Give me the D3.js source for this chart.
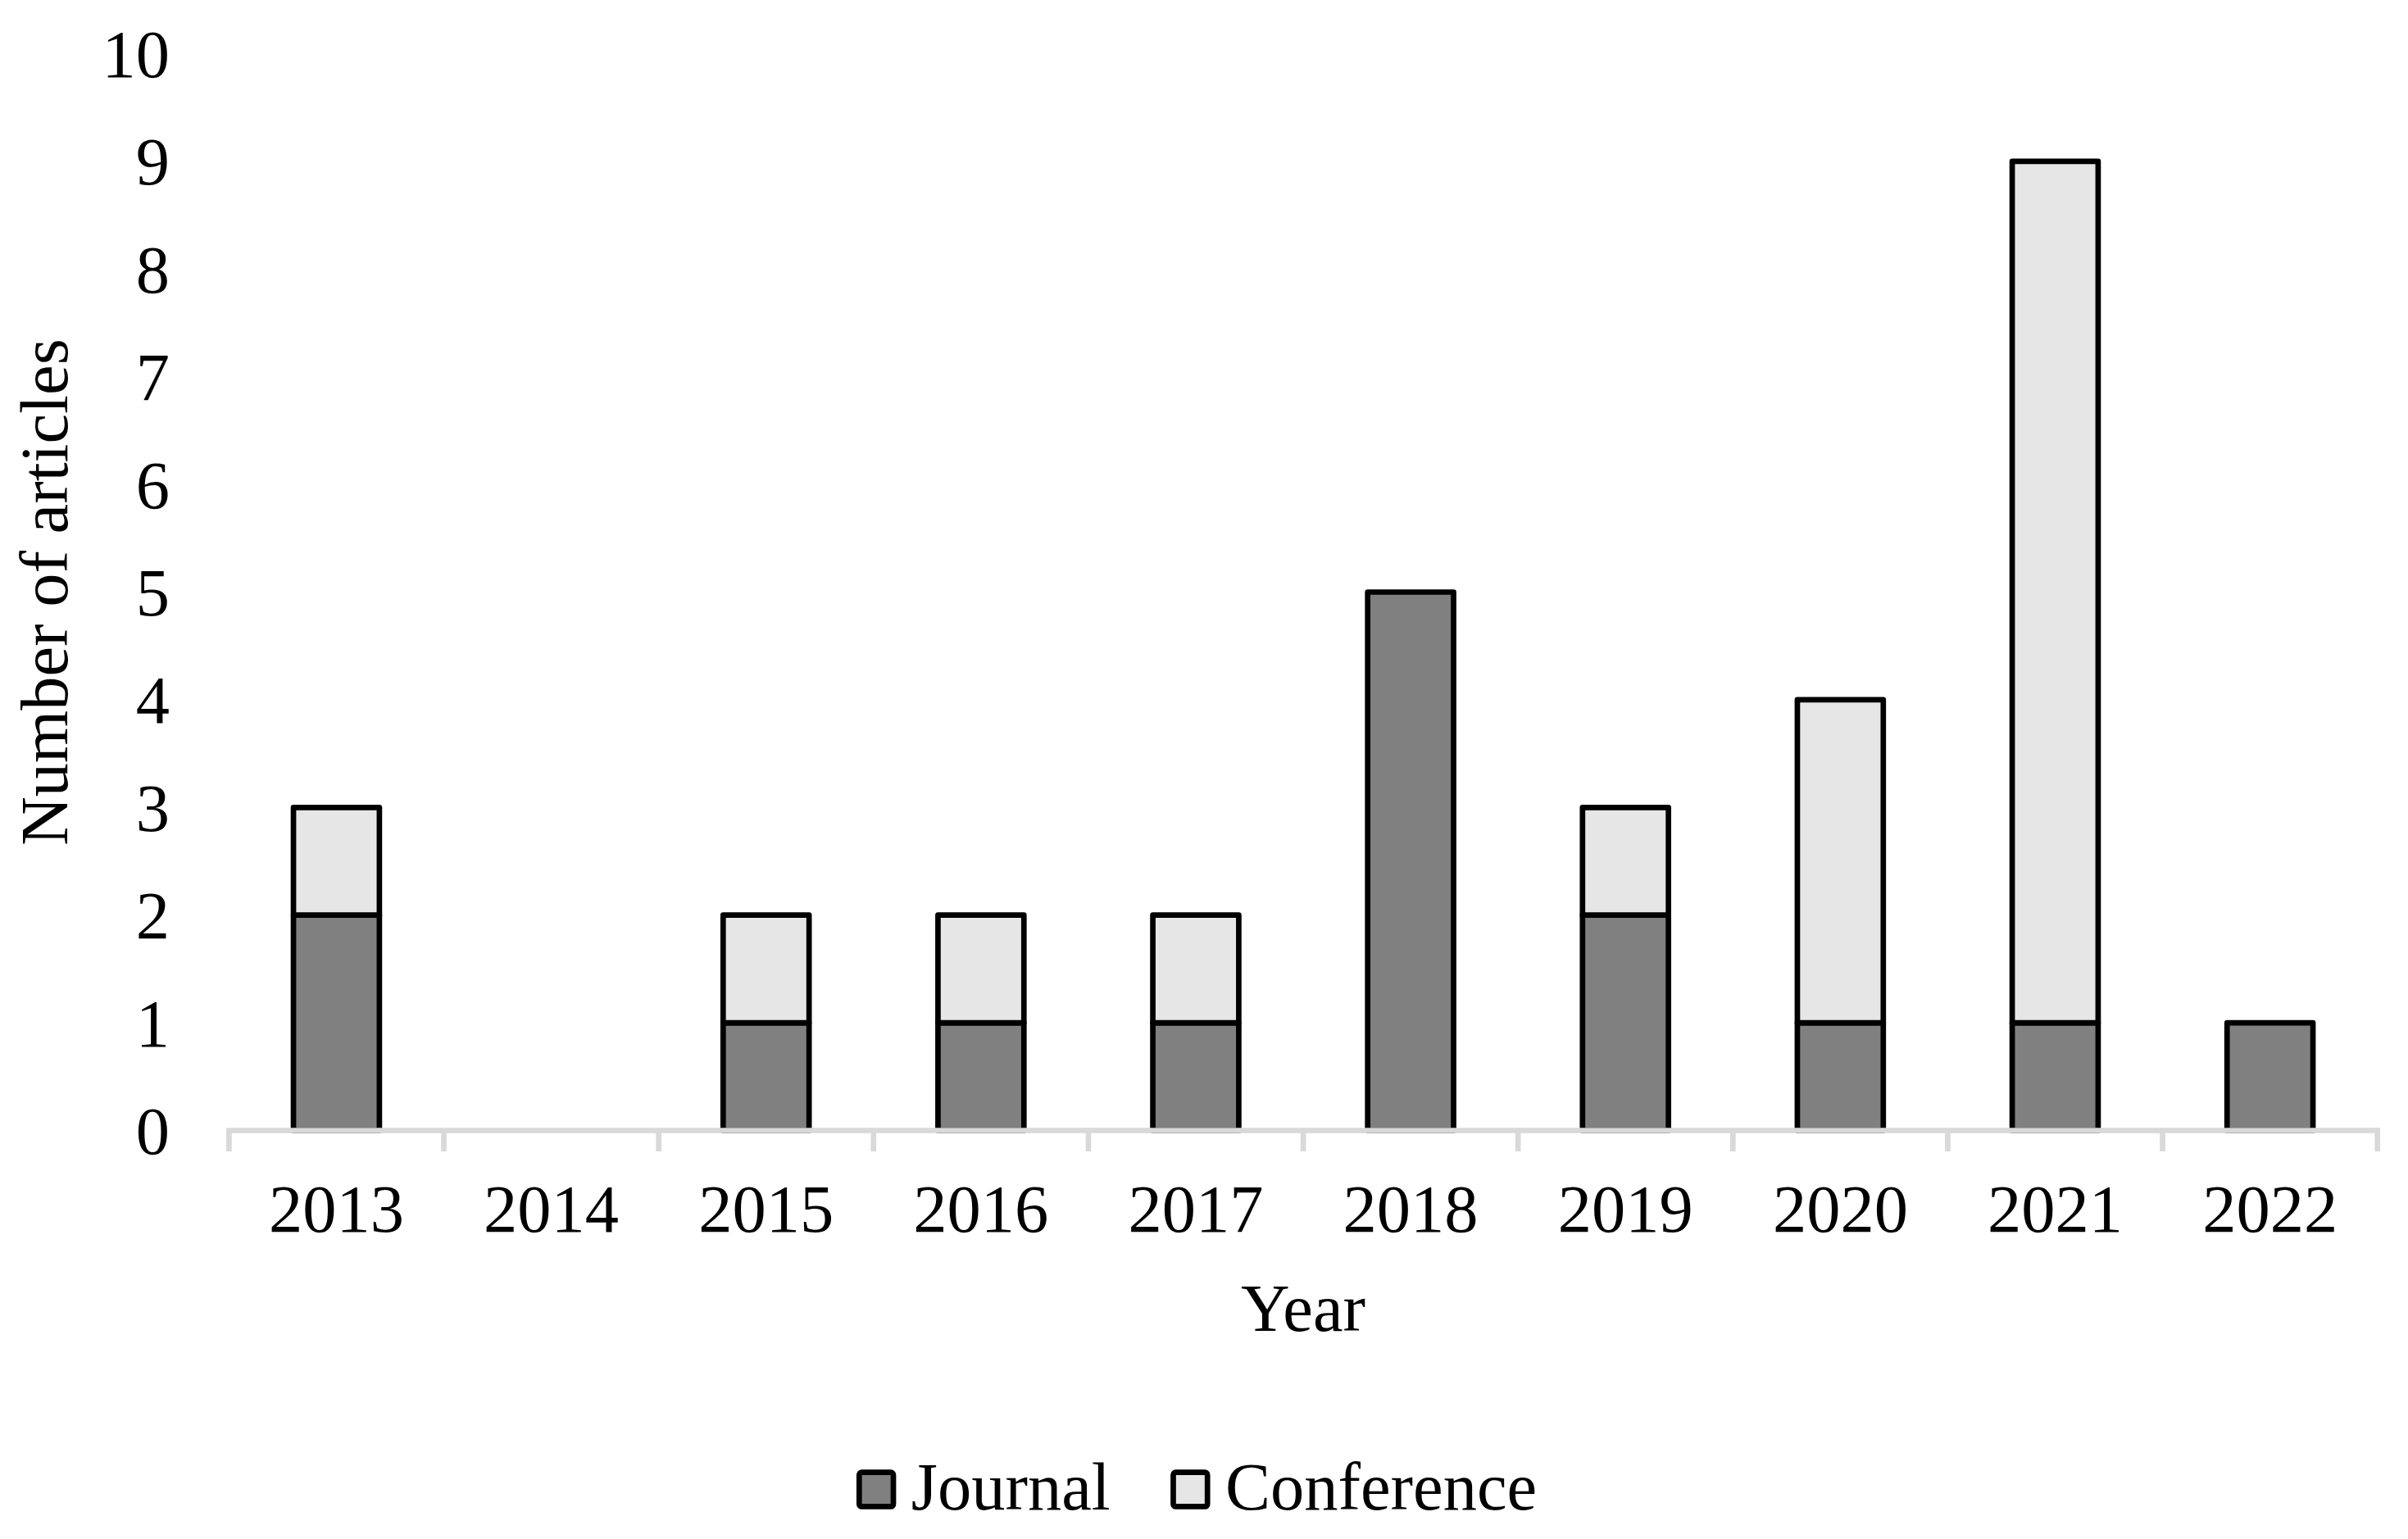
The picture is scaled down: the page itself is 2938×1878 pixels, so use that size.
<!DOCTYPE html>
<html>
<head>
<meta charset="utf-8">
<script src="https://cdn.jsdelivr.net/npm/d3@7/dist/d3.min.js"></script>
<style>
  html, body { margin: 0; padding: 0; background: #fff; }
  svg { display: block; }
  text { font-family: "Liberation Serif", "Times New Roman", serif; fill: #000; }
</style>
</head>
<body>
<script>
const years = ["2013", "2014", "2015", "2016", "2017", "2018", "2019", "2020", "2021", "2022"];
const journal = [2, 0, 1, 1, 1, 5, 2, 1, 1, 1];
const conference = [1, 0, 1, 1, 1, 0, 1, 3, 8, 0];
const seriesNames = ["Journal", "Conference"];
const seriesColors = ["#808080", "#e6e6e6"];
const yTicks = [0, 1, 2, 3, 4, 5, 6, 7, 8, 9, 10];

const W = 2938, H = 1878;
const fontSize = 82.5;
const strokeW = 6.7;

const svg = d3.select("body").append("svg")
  .attr("width", W).attr("height", H)
  .attr("viewBox", `0 0 ${W} ${H}`);

const x = d3.scaleBand()
  .domain(years)
  .range([279.4, 2900.7])
  .paddingInner(0.6)
  .paddingOuter(0.3);

const y = d3.scaleLinear()
  .domain([0, 10])
  .range([1379.5, 65.5]);

// stacked data
const table = years.map((yr, i) => ({ year: yr, Journal: journal[i], Conference: conference[i] }));
const stack = d3.stack().keys(seriesNames)(table);

// bars
const barG = svg.append("g");
stack.forEach((layer, li) => {
  barG.selectAll(null)
    .data(layer.filter(d => d[1] - d[0] > 0))
    .join("rect")
    .attr("x", d => x(d.data.year))
    .attr("width", x.bandwidth())
    .attr("y", d => y(d[1]))
    .attr("height", d => y(d[0]) - y(d[1]))
    .attr("fill", seriesColors[li])
    .attr("stroke", "#000")
    .attr("stroke-width", strokeW)
    .attr("stroke-linejoin", "round");
});

// x axis line and boundary ticks
const [x0, x1] = x.range();
const step = x.step();
const axisG = svg.append("g");
axisG.append("line")
  .attr("x1", x0 - strokeW / 2).attr("x2", x1 + strokeW / 2)
  .attr("y1", y(0)).attr("y2", y(0))
  .attr("stroke", "#d9d9d9").attr("stroke-width", strokeW);
axisG.selectAll(null)
  .data(d3.range(years.length + 1))
  .join("line")
  .attr("x1", i => x0 + i * step).attr("x2", i => x0 + i * step)
  .attr("y1", y(0)).attr("y2", y(0) + 25.5)
  .attr("stroke", "#d9d9d9").attr("stroke-width", strokeW);

// x labels
axisG.selectAll(null)
  .data(years)
  .join("text")
  .attr("x", d => x(d) + x.bandwidth() / 2)
  .attr("y", y(0) + 123.5)
  .attr("text-anchor", "middle")
  .attr("font-size", fontSize)
  .text(d => d);

// y axis labels via d3 axis
const yAxis = d3.axisLeft(y).tickValues(yTicks).tickSize(0).tickPadding(0).tickFormat(d3.format("d"));
const yG = svg.append("g").attr("transform", "translate(207,0)").call(yAxis);
yG.select(".domain").remove();
yG.selectAll("text")
  .attr("font-size", fontSize)
  .attr("font-family", "'Liberation Serif', 'Times New Roman', serif")
  .attr("fill", "#000")
  .attr("dy", "0.34em");

// axis titles
svg.append("text")
  .attr("x", (x0 + x1) / 2)
  .attr("y", 1624)
  .attr("text-anchor", "middle")
  .attr("font-size", fontSize)
  .text("Year");

svg.append("text")
  .attr("transform", `translate(82,${(y(0) + y(10)) / 2}) rotate(-90)`)
  .attr("text-anchor", "middle")
  .attr("font-size", fontSize)
  .text("Number of articles");

// legend
const legendX = [1048.3, 1431.5];
const legG = svg.append("g");
seriesNames.forEach((name, i) => {
  legG.append("rect")
    .attr("x", legendX[i]).attr("y", 1796.7)
    .attr("width", 41.7).attr("height", 41.7)
    .attr("rx", 3)
    .attr("fill", seriesColors[i])
    .attr("stroke", "#000")
    .attr("stroke-width", strokeW);
  legG.append("text")
    .attr("x", legendX[i] + 63.5)
    .attr("y", 1842)
    .attr("font-size", fontSize)
    .text(name);
});
</script>
</body>
</html>
